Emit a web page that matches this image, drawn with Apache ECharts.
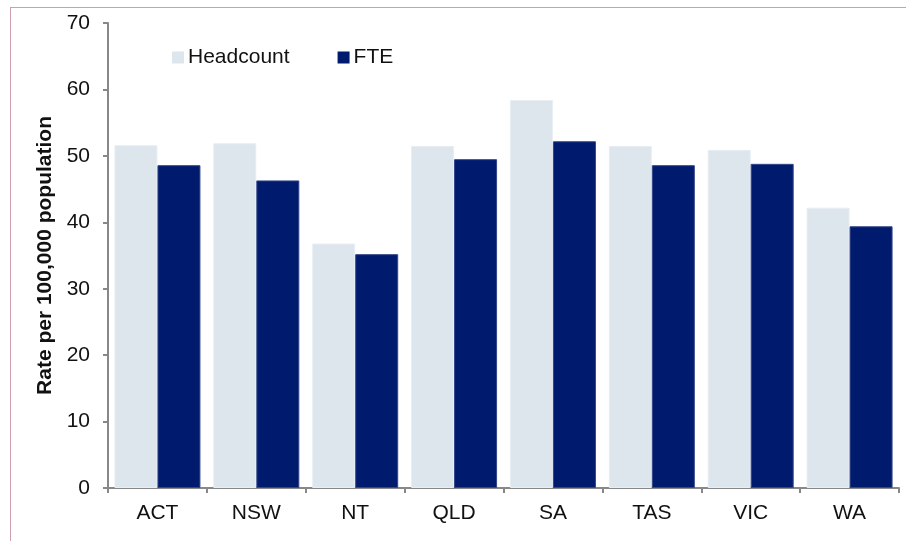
<!DOCTYPE html>
<html>
<head>
<meta charset="utf-8">
<script src="https://cdn.jsdelivr.net/npm/echarts@6/dist/echarts.min.js"></script>
<style>
html,body{margin:0;padding:0;background:#fff;}
#frame{position:absolute;left:10px;top:7px;width:900px;height:540px;border-left:1px solid #cf9fb0;border-top:1px solid #cf9fb0;}
#chart{position:absolute;left:0;top:0;width:906px;height:541px;}
</style>
</head>
<body>
<div id="frame"></div>
<div id="chart"></div>
<script>
const categories = ['ACT','NSW','NT','QLD','SA','TAS','VIC','WA'];
const headcount = [51.6, 51.9, 36.8, 51.5, 58.4, 51.5, 50.9, 42.2];
const fte = [48.6, 46.3, 35.2, 49.5, 52.2, 48.6, 48.8, 39.4];
const yTicks = [0,10,20,30,40,50,60,70];

const chart = echarts.init(document.getElementById('chart'), null, {renderer:'canvas'});
const font = 'Liberation Sans, Arial, sans-serif';
chart.setOption({
  animation:false,
  backgroundColor:'transparent',
  textStyle:{fontFamily:font},
  legend:{
    left:167, top:42,
    itemWidth:12, itemHeight:12, itemGap:48,
    icon:'rect',
    itemStyle:{borderWidth:0},
    textStyle:{fontSize:21, color:'#111', fontFamily:font, padding:[0,0,0,-1]},
    data:['Headcount','FTE']
  },
  grid:{left:108, right:7, top:23, bottom:53, containLabel:false},
  xAxis:{
    type:'category', data:categories,
    axisLine:{lineStyle:{color:'#888', width:2}},
    axisTick:{show:true, alignWithLabel:false, length:5, lineStyle:{color:'#888', width:2}},
    axisLabel:{fontSize:21, color:'#111', margin:15, fontFamily:font}
  },
  yAxis:{
    type:'value', min:yTicks[0], max:yTicks[yTicks.length-1], interval:10,
    name:'Rate per 100,000 population', nameLocation:'middle', nameGap:50, nameRotate:90,
    nameTextStyle:{fontSize:21, fontWeight:'bold', color:'#111', fontFamily:font},
    axisLine:{show:true, lineStyle:{color:'#888', width:2}},
    axisTick:{show:true, length:5, lineStyle:{color:'#888', width:2}},
    axisLabel:{fontSize:21, color:'#111', margin:18, fontFamily:font},
    splitLine:{show:false}
  },
  series:[
    {name:'Headcount', type:'bar', data:headcount, barGap:'0%', barCategoryGap:'13%',
     itemStyle:{color:'#dde5ed', borderColor:'#e8eef4', borderWidth:1}},
    {name:'FTE', type:'bar', data:fte, barGap:'0%', barCategoryGap:'13%',
     itemStyle:{color:'#001b6e', borderColor:'#33478a', borderWidth:1}}
  ]
});
</script>
</body>
</html>
